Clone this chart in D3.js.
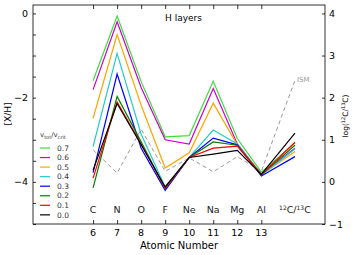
<!doctype html>
<html lang="en">
<head>
<meta charset="UTF-8">
<title>H layers</title>
<style>
  body { margin: 0; background: #fff; }
  svg { display: block; font-family: "DejaVu Sans", sans-serif; }
</style>
</head>
<body>
<svg id="chart" width="356" height="255"></svg>
<script src="https://cdn.jsdelivr.net/npm/d3@7"></script>
<script>
// data
var elements = ["C", "N", "O", "F", "Ne", "Na", "Mg", "Al"];
var atomicNumbers = [6, 7, 8, 9, 10, 11, 12, 13];
var ratioPos = 14.4;
var velocities = ["0.7", "0.6", "0.5", "0.4", "0.3", "0.2", "0.1", "0.0"];
var colors = ["#3fdc3f", "#cc00cc", "#ffa500", "#22cccc", "#0000ff", "#008000", "#ff0000", "#000000"];

var xh07 = [-1.60, -0.06, -1.62, -2.93, -2.90, -1.61, -2.97, -3.77];
var xh06 = [-1.81, -0.20, -1.76, -3.00, -3.10, -1.78, -3.10, -3.82];
var xh05 = [-2.49, -0.50, -2.18, -3.67, -3.31, -2.13, -3.12, -3.83];
var xh04 = [-3.16, -0.95, -2.87, -4.12, -3.42, -2.77, -3.10, -3.84];
var xh03 = [-3.78, -1.44, -3.20, -4.20, -3.42, -2.96, -3.12, -3.86];
var xh02 = [-4.14, -1.97, -3.05, -4.16, -3.42, -3.05, -3.13, -3.83];
var xh01 = [-3.91, -2.10, -3.10, -4.15, -3.42, -3.20, -3.15, -3.83];
var xh00 = [-3.72, -2.14, -3.12, -4.12, -3.42, -3.34, -3.25, -3.82];
var ratios = [0.92, 0.80, 0.72, 0.78, 0.60, 0.87, 0.94, 1.16];

var ismXH = [-3.24, -3.79, -2.75, -3.75, -3.43, -3.76, -3.40, -3.75];
var ismRatio = 2.41;

var leftTicks = [0, -2, -4];
var rightTicks = [4, 3, 2, 1, 0, -1];

var allXH = [xh07, xh06, xh05, xh04, xh03, xh02, xh01, xh00];

var svg = d3.select("#chart");
var mLeft = 33, mRight = 325, mTop = 5, mBottom = 224;

var x = d3.scaleLinear().domain([3.5, 15.65]).range([mLeft, mRight]);
var y = d3.scaleLinear().domain([-5, 0.2]).range([mBottom, mTop]);
var y2 = d3.scaleLinear().domain([-1, 4.2]).range([mBottom, mTop]);

// axes, ticks pointing inward
svg.append("g").attr("transform", "translate(" + mLeft + ",0)")
  .call(d3.axisRight(y).tickValues(d3.range(-5, 0.01, 0.5)).tickSize(3).tickFormat(""))
  .call(g => g.select(".domain").remove());
svg.append("g").attr("transform", "translate(" + mRight + ",0)")
  .call(d3.axisLeft(y2).tickValues(rightTicks).tickSize(3).tickFormat(""))
  .call(g => g.select(".domain").remove());
svg.append("g").attr("transform", "translate(0," + mBottom + ")")
  .call(d3.axisTop(x).tickValues(atomicNumbers).tickSize(4).tickFormat(""))
  .call(g => g.select(".domain").remove());
svg.append("g").attr("transform", "translate(0," + mTop + ")")
  .call(d3.axisBottom(x).tickValues(atomicNumbers).tickSize(4).tickFormat(""))
  .call(g => g.select(".domain").remove());

svg.selectAll(".tick line").attr("stroke", "#000").attr("stroke-width", 0.8);

svg.append("rect")
  .attr("x", mLeft).attr("y", mTop)
  .attr("width", mRight - mLeft).attr("height", mBottom - mTop)
  .attr("fill", "none").attr("stroke", "#000").attr("stroke-width", 0.8);

// tick labels
svg.selectAll(".ltick").data(leftTicks).enter().append("text")
  .attr("x", mLeft - 5).attr("y", d => y(d) + 3.5)
  .attr("text-anchor", "end").attr("font-size", 9.5)
  .text(d => d === 0 ? "0" : "\u2212" + Math.abs(d));
svg.selectAll(".rtick").data(rightTicks).enter().append("text")
  .attr("x", mRight + 4).attr("y", d => y2(d) + 3.5)
  .attr("font-size", 9.5)
  .text(d => d < 0 ? "\u2212" + Math.abs(d) : d);
svg.selectAll(".xtick").data(atomicNumbers).enter().append("text")
  .attr("x", d => x(d)).attr("y", 236)
  .attr("text-anchor", "middle").attr("font-size", 9.5)
  .text(d => d);

svg.append("text").attr("x", (mLeft + mRight) / 2).attr("y", 249)
  .attr("text-anchor", "middle").attr("font-size", 10).text("Atomic Number");

svg.append("text").attr("transform", "translate(11,114) rotate(-90)")
  .attr("text-anchor", "middle").attr("font-size", 9).text("[X/H]");

var rl = svg.append("text").attr("transform", "translate(348,116) rotate(-90)")
  .attr("text-anchor", "middle").attr("font-size", 7.5);
rl.append("tspan").text("log(");
rl.append("tspan").attr("font-size", 5).attr("dy", -3).text("12");
rl.append("tspan").attr("dy", 3).text("C/");
rl.append("tspan").attr("font-size", 5).attr("dy", -3).text("13");
rl.append("tspan").attr("dy", 3).text("C)");

// element labels
svg.selectAll(".elem").data(elements).enter().append("text")
  .attr("x", (d, i) => x(atomicNumbers[i])).attr("y", 213)
  .attr("text-anchor", "middle").attr("font-size", 9.5).attr("fill", "#222")
  .text(d => d);
var cl = svg.append("text").attr("x", x(ratioPos)).attr("y", 213)
  .attr("text-anchor", "middle").attr("font-size", 9.5).attr("fill", "#222");
cl.append("tspan").attr("font-size", 6).attr("dy", -3).text("12");
cl.append("tspan").attr("dy", 3).text("C/");
cl.append("tspan").attr("font-size", 6).attr("dy", -3).text("13");
cl.append("tspan").attr("dy", 3).text("C");

svg.append("text").attr("x", 165).attr("y", 21).attr("font-size", 9).text("H layers");

// lines
function points(xh, ratio) {
  var p = xh.map((v, i) => [x(atomicNumbers[i]), y(v)]);
  p.push([x(ratioPos), y2(ratio)]);
  return p;
}
var line = d3.line();

svg.append("path")
  .attr("d", line(points(ismXH, ismRatio)))
  .attr("fill", "none").attr("stroke", "#999").attr("stroke-width", 1)
  .attr("stroke-dasharray", "4,3");
svg.append("text").attr("x", x(ratioPos) + 2).attr("y", y2(ismRatio) + 2)
  .attr("font-size", 7).attr("fill", "#999").text("ISM");

for (var i = 0; i < allXH.length; i++) {
  svg.append("path")
    .attr("d", line(points(allXH[i], ratios[i])))
    .attr("fill", "none").attr("stroke", colors[i]).attr("stroke-width", 1.2)
    .attr("stroke-linejoin", "miter");
}

// legend
var lt = svg.append("text").attr("x", 40).attr("y", 137).attr("font-size", 7).attr("fill", "#333");
lt.append("tspan").text("v");
lt.append("tspan").attr("font-size", 5).attr("dy", 2).text("tot");
lt.append("tspan").attr("dy", -2).text("/v");
lt.append("tspan").attr("font-size", 5).attr("dy", 2).text("crit");

var leg = svg.selectAll(".leg").data(velocities).enter().append("g")
  .attr("transform", (d, i) => "translate(40," + (148 + i * 9.55) + ")");
leg.append("line").attr("x1", 0).attr("x2", 10)
  .attr("stroke", (d, i) => colors[i]).attr("stroke-width", 1.2);
leg.append("text").attr("x", 17).attr("y", 2.7).attr("font-size", 7.5).attr("fill", "#333")
  .text(d => d);
</script>
</body>
</html>
